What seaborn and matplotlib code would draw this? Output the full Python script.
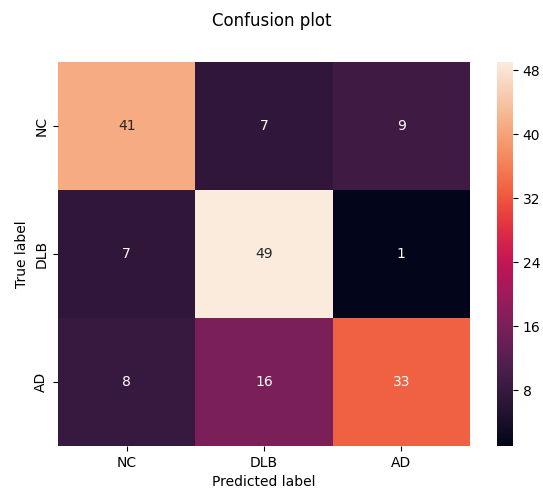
import numpy as np
import matplotlib
matplotlib.use("Agg")
import matplotlib.pyplot as plt
import seaborn as sns

labels = ["NC", "DLB", "AD"]
row_nc = [41, 7, 9]
row_dlb = [7, 49, 1]
row_ad = [8, 16, 33]

cm = np.array([row_nc, row_dlb, row_ad])

fig = plt.figure(figsize=(5.43, 4.93), dpi=100)
ax = fig.add_axes([58/543, 1-446/493, (470-58)/543, (446-62)/493])
cax = fig.add_axes([497/543, 1-446/493, 16/543, (446-62)/493])
sns.heatmap(cm, annot=True, fmt="d", ax=ax, cbar_ax=cax,
            xticklabels=labels, yticklabels=labels, cmap="rocket")
ax.set_xlabel("Predicted label")
ax.set_ylabel("True label")
fig.suptitle("Confusion plot", y=0.975)
cax.set_yticks([8, 16, 24, 32, 40, 48])
fig.savefig("out.png", dpi=100)
